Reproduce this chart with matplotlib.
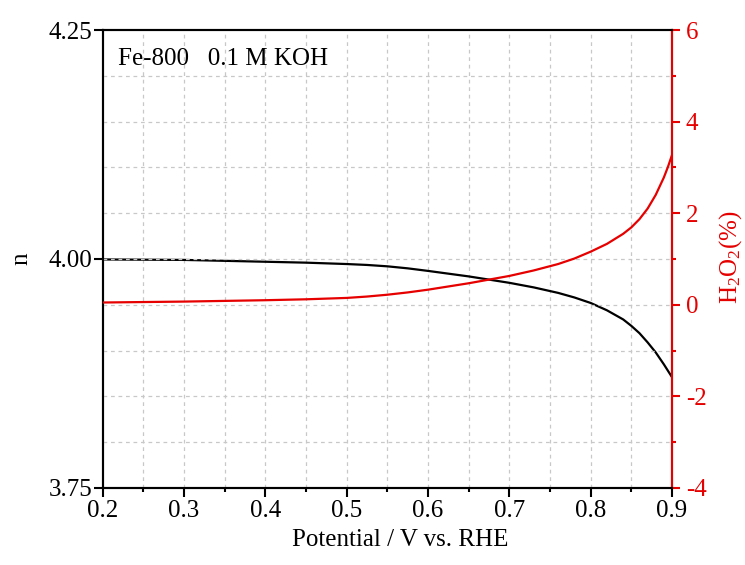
import matplotlib
matplotlib.use("Agg")
import matplotlib.pyplot as plt
from matplotlib.ticker import MultipleLocator

plt.rcParams['font.family'] = ['Liberation Serif', 'DejaVu Serif']
plt.rcParams['mathtext.fontset'] = 'custom'
plt.rcParams['mathtext.rm'] = 'Liberation Serif'
plt.rcParams['mathtext.it'] = 'Liberation Serif:italic'
plt.rcParams['axes.unicode_minus'] = False

potential = [0.20, 0.30, 0.40, 0.45, 0.50, 0.525, 0.55, 0.575, 0.60, 0.625, 0.65, 0.70,
             0.73, 0.76, 0.78, 0.80, 0.82, 0.84, 0.85, 0.86, 0.87, 0.88, 0.89, 0.895, 0.90]
n_values = [3.9995, 3.999, 3.997, 3.996, 3.9945, 3.9935, 3.992, 3.9898, 3.987, 3.984, 3.981,
            3.974, 3.969, 3.963, 3.958, 3.952, 3.944, 3.934, 3.927, 3.919, 3.909, 3.898,
            3.885, 3.878, 3.871]
h2o2_values = [0.05, 0.07, 0.10, 0.12, 0.15, 0.18, 0.22, 0.27, 0.33, 0.40, 0.47, 0.63,
               0.75, 0.89, 1.01, 1.16, 1.33, 1.55, 1.69, 1.87, 2.10, 2.40, 2.78, 3.01, 3.27]

red = '#e60000'
fs = 18

fig = plt.figure(figsize=(7.45, 5.65), dpi=100)
ax = fig.add_axes([0.1378, 0.1363, 0.902 - 0.1378, 0.9469 - 0.1363])
ax2 = ax.twinx()

ax.plot(potential, n_values, color='black', lw=1.6, zorder=3)
ax2.plot(potential, h2o2_values, color=red, lw=1.6, zorder=3)

ax.set_xlim(0.2, 0.9)
ax.set_ylim(3.75, 4.25)
ax2.set_ylim(-4, 6)

ax.xaxis.set_major_locator(MultipleLocator(0.1))
ax.xaxis.set_minor_locator(MultipleLocator(0.05))
ax.set_yticks([3.75, 4.00, 4.25])
ax.set_yticklabels(['3.75', '4.00', '4.25'])
ax2.yaxis.set_major_locator(MultipleLocator(2))
ax2.yaxis.set_minor_locator(MultipleLocator(1))

# grid
gkw = dict(color='#c8c8c8', lw=0.9, ls=(0, (3, 3)))
for xv in [0.2 + 0.05 * i for i in range(1, 14)]:
    ax.axvline(xv, zorder=0, **gkw)
for yv in range(-3, 6):
    ax2.axhline(yv, zorder=0, **gkw)

for a in (ax, ax2):
    for s in a.spines.values():
        s.set_linewidth(1.5)
ax2.spines['right'].set_color(red)
ax2.spines['left'].set_color('black')

ax.tick_params(axis='x', which='major', direction='out', length=6.5, width=1.5,
               labelsize=fs, pad=2)
ax.tick_params(axis='x', which='minor', direction='out', length=3, width=1.5)
ax.tick_params(axis='y', which='major', direction='out', length=6.5, width=1.5,
               labelsize=fs, pad=1)
ax2.tick_params(axis='y', which='major', direction='out', length=6, width=1.5,
                labelsize=fs, pad=4, colors=red)
ax2.tick_params(axis='y', which='minor', direction='out', length=3, width=1.5,
                colors=red)

ax.set_xlabel('Potential / V vs. RHE', fontsize=fs)
ax.xaxis.set_label_coords(0.522, -0.09)
ax.set_ylabel('n', fontsize=fs)
ax.yaxis.set_label_coords(-0.124, 0.5)
ax2.set_ylabel(r'H$_2$O$_2$(%)', fontsize=fs, color=red)
ax2.yaxis.set_label_coords(1.079, 0.505)

ax.text(0.027, 0.96, 'Fe-800   0.1 M KOH', transform=ax.transAxes,
        fontsize=fs, va='top', ha='left')

fig.savefig('out.png', dpi=100)
